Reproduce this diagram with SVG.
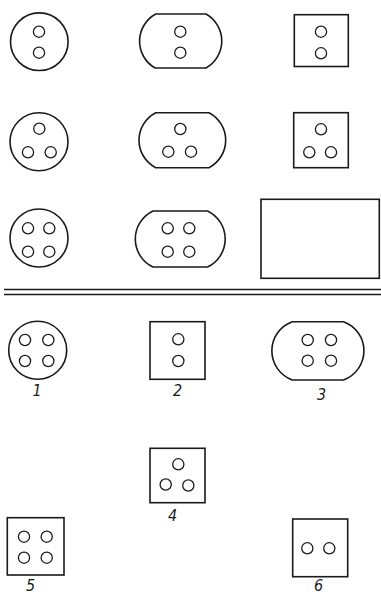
<svg xmlns="http://www.w3.org/2000/svg" width="381" height="595" viewBox="0 0 381 595">
  <style>
    .body { fill: none; stroke: #1a1a1a; stroke-width: 1.6; }
    .hole { fill: none; stroke: #1a1a1a; stroke-width: 1.3; }
    .rule { fill: none; stroke: #1a1a1a; stroke-width: 1.5; }
    .num { font-family: "Liberation Sans Narrow", "DejaVu Sans Condensed", "Liberation Sans", sans-serif; font-size: 16px; font-style: italic; fill: #1a1a1a; text-anchor: middle; }
  </style>
  <defs>
    <circle id="h" r="5.6" class="hole"/>
  </defs>

  <!-- row 1: two-pin variants -->
  <g id="r1-round">
    <circle cx="39.3" cy="41.7" r="28.8" class="body"/>
    <use href="#h" x="39" y="31.7"/>
    <use href="#h" x="39" y="52.7"/>
  </g>
  <g id="r1-oval">
    <path class="body" d="M155.7,14 H206 A31,31 0 0 1 206,68 H155 A31,31 0 0 1 155.7,14 Z"/>
    <use href="#h" x="180.3" y="31.7"/>
    <use href="#h" x="180.3" y="52.7"/>
  </g>
  <g id="r1-square">
    <rect x="294.3" y="14.7" width="54" height="51.8" class="body"/>
    <use href="#h" x="321" y="31.7"/>
    <use href="#h" x="321" y="53.3"/>
  </g>

  <!-- row 2: three-pin variants -->
  <g id="r2-round">
    <circle cx="39" cy="141.7" r="29" class="body"/>
    <use href="#h" x="39.3" y="128.7"/>
    <use href="#h" x="28" y="152.3"/>
    <use href="#h" x="50.7" y="152.3"/>
  </g>
  <g id="r2-oval">
    <path class="body" d="M155.7,112.7 H209 A31,31 0 0 1 209,167.7 H155.7 A31,31 0 0 1 155.7,112.7 Z"/>
    <use href="#h" x="180.3" y="129"/>
    <use href="#h" x="168.3" y="151.7"/>
    <use href="#h" x="191" y="151.7"/>
  </g>
  <g id="r2-square">
    <rect x="293.7" y="112.7" width="54.6" height="55" class="body"/>
    <use href="#h" x="321" y="129.3"/>
    <use href="#h" x="309.3" y="152.3"/>
    <use href="#h" x="331" y="152.3"/>
  </g>

  <!-- row 3: four-pin variants and blank plate -->
  <g id="r3-round">
    <circle cx="39" cy="238" r="29" class="body"/>
    <use href="#h" x="28" y="228.3"/>
    <use href="#h" x="49.3" y="228.3"/>
    <use href="#h" x="28" y="251.7"/>
    <use href="#h" x="49.3" y="251.7"/>
  </g>
  <g id="r3-oval">
    <path class="body" d="M153,211 H207.5 A31,31 0 0 1 207.5,267 H153 A31,31 0 0 1 153,211 Z"/>
    <use href="#h" x="167.7" y="228.3"/>
    <use href="#h" x="189.3" y="228.3"/>
    <use href="#h" x="167.7" y="251.7"/>
    <use href="#h" x="189.3" y="251.7"/>
  </g>
  <g id="r3-blank">
    <rect x="261" y="199.3" width="118.3" height="79" class="body"/>
  </g>

  <!-- double separator -->
  <g id="separator">
    <line x1="4" y1="289.5" x2="381" y2="289.5" class="rule"/>
    <line x1="4" y1="294.5" x2="381" y2="294.5" class="rule"/>
  </g>

  <!-- numbered items -->
  <g id="item1">
    <circle cx="37.7" cy="350.3" r="29" class="body"/>
    <use href="#h" x="25" y="340"/>
    <use href="#h" x="48.3" y="340"/>
    <use href="#h" x="25" y="361"/>
    <use href="#h" x="48.3" y="361"/>
    <text x="37" y="395.5" class="num">1</text>
  </g>
  <g id="item2">
    <rect x="150" y="321.7" width="55" height="57.6" class="body"/>
    <use href="#h" x="178.3" y="339.3"/>
    <use href="#h" x="178.3" y="361"/>
    <text x="177.5" y="396" class="num">2</text>
  </g>
  <g id="item3">
    <path class="body" d="M292.3,321.7 H343.5 A31,31 0 0 1 343.5,380 H292.3 A31,31 0 0 1 292.3,321.7 Z"/>
    <use href="#h" x="307.7" y="340"/>
    <use href="#h" x="331" y="340"/>
    <use href="#h" x="307.7" y="360.7"/>
    <use href="#h" x="331" y="360.7"/>
    <text x="321.5" y="400" class="num">3</text>
  </g>
  <g id="item4">
    <rect x="150" y="448.3" width="55" height="54.4" class="body"/>
    <use href="#h" x="178.3" y="464.3"/>
    <use href="#h" x="165.7" y="484.5"/>
    <use href="#h" x="188.3" y="485.5"/>
    <text x="172.5" y="521" class="num">4</text>
  </g>
  <g id="item5">
    <rect x="7.3" y="517.7" width="56.7" height="57.3" class="body"/>
    <use href="#h" x="24" y="536.7"/>
    <use href="#h" x="46.7" y="536.7"/>
    <use href="#h" x="24" y="557.7"/>
    <use href="#h" x="46.7" y="557.7"/>
    <text x="30.5" y="590.5" class="num">5</text>
  </g>
  <g id="item6">
    <rect x="292.7" y="519" width="55" height="57.7" class="body"/>
    <use href="#h" x="307.3" y="548.3"/>
    <use href="#h" x="329.3" y="548.3"/>
    <text x="318.5" y="590.5" class="num">6</text>
  </g>
</svg>
